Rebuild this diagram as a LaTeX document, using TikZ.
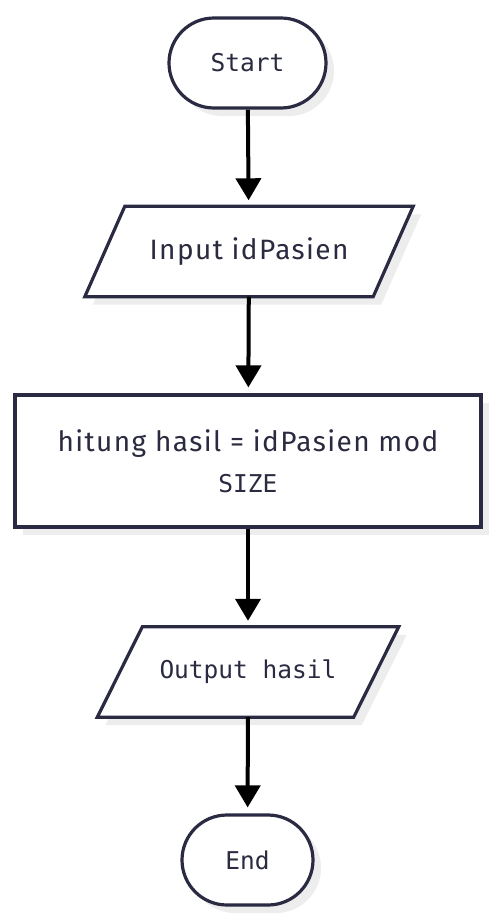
\documentclass[tikz,border=0pt]{standalone}
\usepackage{fontspec}
\setmainfont{Fira Sans}[LetterSpace=5]
\newfontfamily\monof{DejaVu Sans Mono}
\usetikzlibrary{arrows.meta,shadows,backgrounds}
\definecolor{edgec}{HTML}{2A2A42}
\definecolor{txtc}{HTML}{2A2A40}
\definecolor{shadc}{HTML}{EDEDED}
\tikzset{
  outline/.style={draw=edgec, line width=3.2pt, fill=white,
    drop shadow={shadow xshift=8pt, shadow yshift=-8pt, fill=shadc, opacity=1}},
  base/.style={outline, text=txtc, inner sep=0pt},
  term/.style={base, rectangle, rounded corners=45pt, minimum height=90pt, font=\monof\fontsize{24.5}{28}\selectfont},
  iotext/.style={rectangle, inner sep=0pt, text=txtc, minimum height=90pt},
  proc/.style={base, rectangle, minimum width=466pt, minimum height=132pt, align=center,
    font=\fontsize{28}{41}\selectfont},
  flow/.style={draw=black, line width=4pt, -{Triangle[width=25pt,length=22pt]}, shorten >=6pt}
}
\begin{document}
\begin{tikzpicture}[x=1pt,y=1pt]
\useasboundingbox (0,0) rectangle (496,-924);
\node[term, minimum width=157pt] (start) at (247.5,-63) {Start};
\node[iotext, minimum width=288pt, font=\fontsize{28}{32}\selectfont] (in) at (249,-251.5) {Input idPasien};
\node[proc] (calc) at (248,-461) {hitung hasil = idPasien mod\\{\monof\fontsize{24.5}{41}\selectfont SIZE}};
\node[iotext, minimum width=256pt, font=\monof\fontsize{24.5}{28}\selectfont] (out) at (248,-672) {Output hasil};
\node[term, minimum width=131pt] (end) at (247.5,-860) {End};
\begin{scope}[on background layer]
\path[outline] ([xshift=-20pt]in.south west) -- ([xshift=-20pt]in.south east)
  -- ([xshift=20pt]in.north east) -- ([xshift=20pt]in.north west) -- cycle;
\path[outline] ([xshift=-22.5pt]out.south west) -- ([xshift=-22.5pt]out.south east)
  -- ([xshift=22.5pt]out.north east) -- ([xshift=22.5pt]out.north west) -- cycle;
\end{scope}
\draw[flow] (start) -- (in);
\draw[flow] (in) -- (calc);
\draw[flow] (calc) -- (out);
\draw[flow] (out) -- (end);
\end{tikzpicture}
\end{document}
